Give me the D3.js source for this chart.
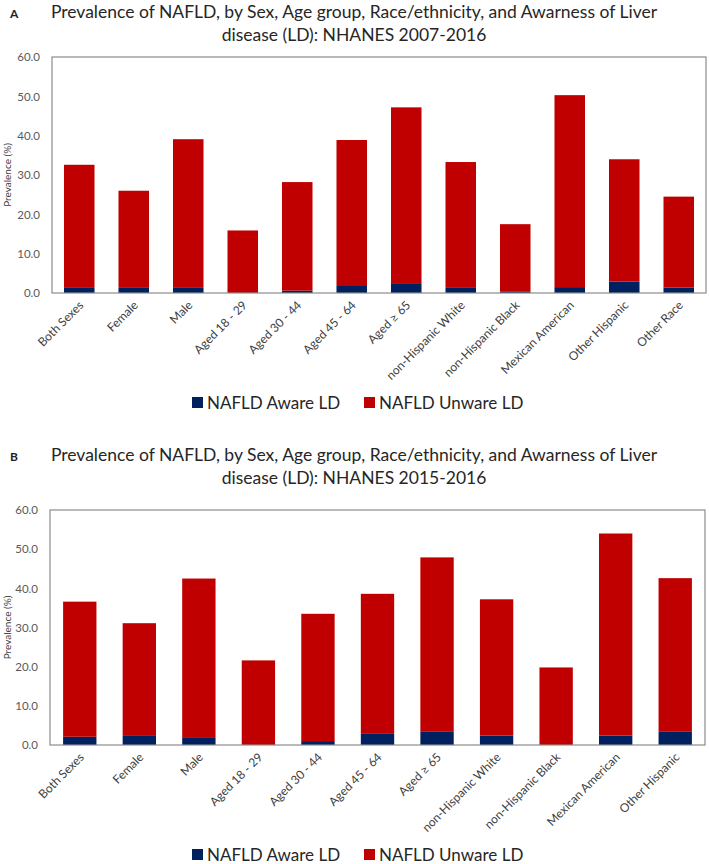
<!DOCTYPE html>
<html>
<head>
<meta charset="utf-8">
<script src="https://cdn.jsdelivr.net/npm/d3@7"></script>
<style>
  body { margin: 0; background: #fff; }
  text { font-family: Lato, "Open Sans", sans-serif; }
  .tick-y { fill: #595959; font-size: 11.5px; }
  .cat { fill: #404040; font-size: 12px; }
  .title { fill: #262626; font-size: 17.5px; }
  .legend { fill: #262626; font-size: 17px; }
</style>
</head>
<body>
<svg id="chart"></svg>
<script>
// categories
var catsA = ["Both Sexes", "Female", "Male", "Aged 18 - 29", "Aged 30 - 44", "Aged 45 - 64",
  "Aged \u2265 65", "non-Hispanic White", "non-Hispanic Black", "Mexican American", "Other Hispanic", "Other Race"];
var catsB = catsA.slice(0, 11);

// panel A: NHANES 2007-2016
var awareA   = [1.3, 1.3, 1.3, 0.0, 0.6, 2.0, 2.5, 1.3, 0.3, 1.5, 2.9, 1.4];
var unawareA = [31.3, 24.7, 37.8, 15.9, 27.6, 36.9, 44.7, 32.0, 17.2, 48.8, 31.1, 23.1];

// panel B: NHANES 2015-2016
var awareB   = [2.1, 2.5, 1.8, 0.0, 1.0, 3.0, 3.5, 2.4, 0.0, 2.4, 3.5];
var unawareB = [34.5, 28.6, 40.7, 21.6, 32.5, 35.6, 44.4, 34.8, 19.8, 51.6, 39.1];

var yTicks = [0, 10, 20, 30, 40, 50, 60];
var seriesNames = ["NAFLD Aware LD", "NAFLD Unware LD"];
var colors = ["#002060", "#C00000"];

var width = 709, height = 864;
var svg = d3.select("#chart").attr("width", width).attr("height", height);

drawPanel({
  letter: "A",
  title: ["Prevalence of NAFLD, by Sex, Age group, Race/ethnicity, and Awarness of Liver",
          "disease (LD): NHANES 2007-2016"],
  cats: catsA, aware: awareA, unaware: unawareA,
  left: 52, right: 706, top: 57, bottom: 293,
  titleY: 18, legendY: 403
});

drawPanel({
  letter: "B",
  title: ["Prevalence of NAFLD, by Sex, Age group,  Race/ethnicity, and Awarness of Liver",
          "disease (LD): NHANES 2015-2016"],
  cats: catsB, aware: awareB, unaware: unawareB,
  left: 50, right: 705, top: 510, bottom: 745,
  titleY: 461, legendY: 855
});

function drawPanel(p) {
  var g = svg.append("g");

  var rows = p.cats.map(function(c, i) {
    return { cat: c, aware: p.aware[i], unaware: p.unaware[i] };
  });
  var stacked = d3.stack().keys(["aware", "unaware"])(rows);

  var x = d3.scaleBand()
    .domain(p.cats)
    .range([p.left, p.right])
    .paddingInner(0.44)
    .paddingOuter(0.22);

  var y = d3.scaleLinear()
    .domain([0, 60])
    .range([p.bottom, p.top]);

  // titles
  g.append("text")
    .attr("x", 10).attr("y", p.titleY)
    .attr("font-size", "12px").attr("font-weight", "bold").attr("fill", "#222")
    .text(p.letter);
  p.title.forEach(function(line, i) {
    g.append("text")
      .attr("class", "title")
      .attr("x", 354)
      .attr("y", p.titleY + i * 23)
      .attr("text-anchor", "middle")
      .text(line);
  });

  // bars
  g.selectAll("g.series")
    .data(stacked)
    .enter().append("g")
    .attr("class", "series")
    .attr("fill", function(d, i) { return colors[i]; })
    .selectAll("rect")
    .data(function(d) { return d; })
    .enter().append("rect")
    .attr("x", function(d) { return x(d.data.cat); })
    .attr("width", x.bandwidth())
    .attr("y", function(d) { return y(d[1]); })
    .attr("height", function(d) { return y(d[0]) - y(d[1]); });

  // frame
  g.append("rect")
    .attr("x", p.left).attr("y", p.top)
    .attr("width", p.right - p.left).attr("height", p.bottom - p.top)
    .attr("fill", "none").attr("stroke", "#8c8c8c").attr("stroke-width", 1.2);

  // y axis
  var yaxis = d3.axisLeft(y).tickValues(yTicks).tickSize(0).tickPadding(12)
    .tickFormat(d3.format(".1f"));
  var ya = g.append("g")
    .attr("transform", "translate(" + p.left + ",0)")
    .call(yaxis);
  ya.select(".domain").remove();
  ya.selectAll("text").attr("class", "tick-y").attr("font-family", null).attr("font-size", null);

  g.append("text")
    .attr("transform", "translate(11," + ((p.top + p.bottom) / 2) + ") rotate(-90)")
    .attr("text-anchor", "middle")
    .attr("font-size", "10px").attr("fill", "#404040")
    .text("Prevalence (%)");

  // x axis
  var xaxis = d3.axisBottom(x).tickSize(0).tickPadding(0);
  var xa = g.append("g")
    .attr("transform", "translate(0," + p.bottom + ")")
    .call(xaxis);
  xa.select(".domain").remove();
  xa.selectAll("text")
    .attr("class", "cat")
    .attr("font-family", null).attr("font-size", null)
    .attr("text-anchor", "end")
    .attr("dy", null)
    .attr("transform", "translate(5,13) rotate(-45)");

  // legend
  var lg = g.append("g").attr("transform", "translate(0," + p.legendY + ")");
  var lx = [192, 364];
  seriesNames.forEach(function(name, i) {
    lg.append("rect")
      .attr("x", lx[i]).attr("y", -6)
      .attr("width", 11).attr("height", 11)
      .attr("fill", colors[i]);
    lg.append("text")
      .attr("class", "legend")
      .attr("x", lx[i] + 15).attr("y", 6)
      .text(name);
  });
}
</script>
</body>
</html>
